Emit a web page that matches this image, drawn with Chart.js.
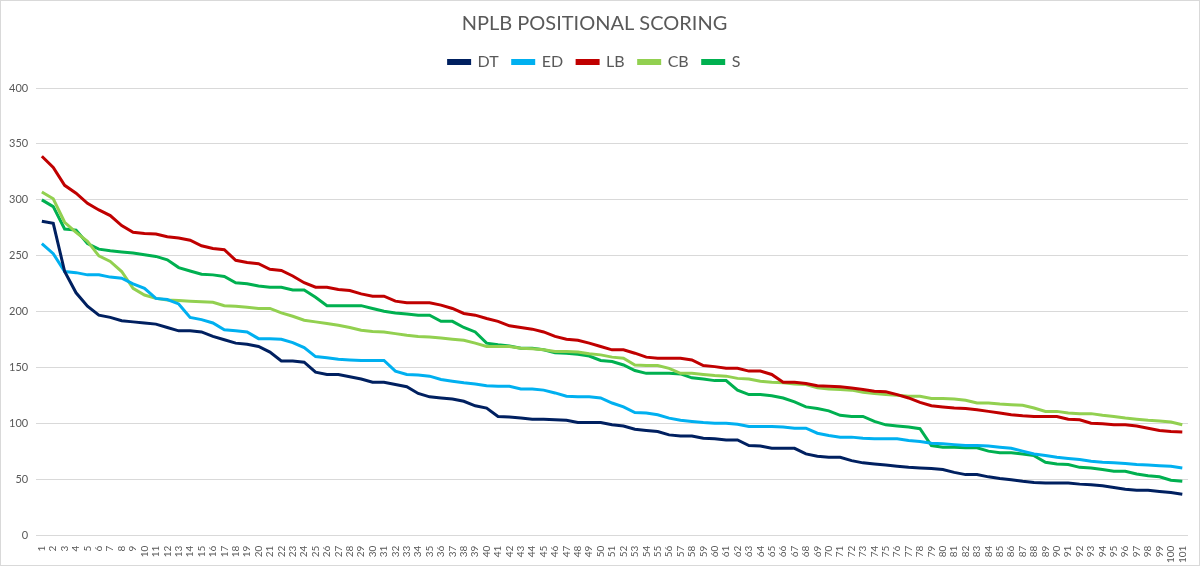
<!DOCTYPE html>
<html>
<head>
<meta charset="utf-8">
<title>NPLB Positional Scoring</title>
<script src="https://cdn.jsdelivr.net/npm/chart.js@4/dist/chart.umd.min.js"></script>
<style>
    html, body {
        margin: 0;
        padding: 0;
        background: #ffffff;
    }
    #wrap {
        width: 1200px;
        height: 566px;
        box-sizing: border-box;
        border: 1px solid #d9d9d9;
    }
</style>
</head>
<body>
<div id="wrap">
    <canvas id="scoringChart" width="1198" height="564"></canvas>
</div>
<script>

/*
 * Data
 */

const ranks =
    Array.from(
        { length: 101 },
        (_, i) => String(i + 1)
    );

const dtScores = [
    281, 279, 236, 217, 205, 197, 195, 192, 191, 190,
    189, 186, 183, 183, 182, 178, 175, 172, 171, 169,
    164, 156, 156, 155, 146, 144, 144, 142, 140, 137,
    137, 135, 133, 127, 124, 123, 122, 120, 116, 114,
    106.5, 106, 105, 104, 104, 103.5, 103, 101, 101, 101,
    99, 98, 95, 94, 93, 90, 89, 89, 87, 86.5,
    85.5, 85.5, 80.5, 80, 78, 78, 78, 73, 71, 70,
    70, 67, 65, 64, 63, 62, 61, 60.5, 60, 59,
    56.5, 54.5, 54.5, 52.5, 51, 50, 48.5, 47.5, 47, 47,
    47, 46, 45.5, 44.5, 43, 41.5, 40.5, 40.5, 39.5, 38.5,
    37
];

const edScores = [
    261, 252, 236, 235, 233, 233, 231, 230, 225, 221,
    212, 211, 207, 195, 193, 190, 184, 183, 182, 176,
    176, 175.5, 172.5, 168, 160, 159, 157.5, 157, 156.5, 156.5,
    156.5, 147, 144, 143.5, 142.5, 139.5, 138, 136.5, 135.5, 134,
    133.5, 133.5, 131, 131, 130, 127.5, 124.5, 124, 124, 123,
    118.5, 115, 110, 109.5, 108, 105, 103, 102, 101, 100.5,
    100.5, 99.5, 97.5, 97.5, 97.5, 97, 96, 96, 91.5, 89.5,
    88, 88, 87, 86.5, 86.5, 86.5, 85, 84, 82.5, 82,
    81.3, 80.5, 80.5, 80, 79, 78, 75.5, 73, 71.5, 70,
    69, 68, 66.5, 65.5, 65, 64.5, 63.5, 63, 62.5, 62,
    60.5
];

const lbScores = [
    339, 329, 313, 306, 297, 291, 286, 277, 271, 270,
    269.5, 267, 266, 264, 259, 256.5, 255.5, 246, 244, 243,
    238, 237, 232, 226, 222, 222, 220, 219, 216, 214,
    214, 209.5, 208, 208, 208, 206, 203, 198.5, 197, 194,
    191.5, 187.5, 186, 184.5, 182, 178, 175.5, 174.5, 172, 169,
    166, 166, 163, 159.5, 158.5, 158.5, 158.5, 157, 152, 151,
    149.5, 149.5, 147, 147, 144, 137, 137, 136, 134, 133.5,
    133, 132, 130.5, 129, 128.5, 126, 123, 119, 116, 115,
    114, 113.5, 112.5, 111, 109.5, 108, 107, 106.5, 106.5, 106.5,
    104, 103.5, 100.5, 100, 99, 99, 98, 96, 94, 93,
    92.5
];

const cbScores = [
    307, 301, 280, 271, 263, 250, 245, 236, 221, 215,
    212, 210.5, 210, 209.5, 209, 208.5, 205.5, 205, 204, 203,
    203, 199, 196, 192.5, 191, 189.5, 188, 186, 183.5, 182.5,
    182, 180.5, 179, 178, 177.5, 176.5, 175.5, 174.5, 172, 169,
    169, 169, 167.5, 167, 166, 164.5, 164.5, 164, 162.5, 161.5,
    159.5, 158.5, 152.5, 152, 152, 149.5, 145, 145, 144, 143,
    142.5, 140.5, 140, 138, 137, 136.5, 135.5, 135, 132, 131,
    130.5, 130, 128, 127, 126, 125.5, 124.5, 124.5, 122.5, 122.5,
    122, 121, 118.5, 118.5, 117.5, 117, 116.5, 114, 111, 111,
    109.5, 109, 109, 107.5, 106.5, 105, 104, 103, 102.5, 101.5,
    99
];

const sScores = [
    300, 294, 274, 273, 261, 256, 254.5, 253.5, 252.5, 251,
    249.5, 246.5, 239.5, 236.5, 233.5, 233, 231.5, 226, 225, 223,
    222, 222, 219.5, 219.5, 213, 205.5, 205.5, 205.5, 205.5, 203,
    200.5, 199, 198, 197, 197, 191.5, 191.5, 186, 182, 172,
    170.5, 169.5, 167.5, 167.5, 166, 163.5, 163, 162, 160.5, 156.5,
    155.5, 152.5, 147.5, 145, 145, 145, 144.5, 141, 140, 138.5,
    138.5, 130, 126, 126, 125, 123, 119.5, 115, 113.5, 111.5,
    107.5, 106.5, 106.5, 102, 99, 98, 97, 95.5, 80.5, 79,
    79, 78.5, 78.5, 75.5, 74, 74, 73, 71.5, 65.5, 64,
    63.5, 61, 60.5, 59, 57.5, 57.5, 55, 53.5, 52.5, 49.5,
    48.5
];

const seriesNames = [ "DT", "ED", "LB", "CB", "S" ];

const seriesColors = [ "#002060", "#00B0F0", "#C00000", "#92D050", "#00B050" ];

const yTicks = [ 0, 50, 100, 150, 200, 250, 300, 350, 400 ];


document.addEventListener(

    "DOMContentLoaded",

    () => {

        /*
         * Scoring Chart
         */

        const canvas =
            document.getElementById(
                "scoringChart"
            );

        const textColor = "#595959";

        const fontFamily = "Lato, 'Open Sans', sans-serif";

        const allScores = [ dtScores, edScores, lbScores, cbScores, sScores ];

        const datasets =
            seriesNames.map(
                (name, i) => ({
                    label: name,
                    data: allScores[i],
                    borderColor: seriesColors[i],
                    backgroundColor: seriesColors[i],
                    borderWidth: 3,
                    pointRadius: 0,
                    pointHoverRadius: 0,
                    tension: 0
                })
            );

        // a bit more room under the legend, like the original
        const legendGap = {
            id: "legendGap",
            beforeInit: chart => {
                const fit = chart.legend.fit;
                chart.legend.fit = function () {
                    fit.call(this);
                    this.height += 8;
                };
            }
        };

        new Chart(

            canvas,

            {

                type: "line",

                data: {
                    labels: ranks,
                    datasets
                },

                plugins: [ legendGap ],

                options: {

                    responsive: false,
                    animation: false,

                    layout: {
                        padding: {
                            left: 0,
                            right: 11,
                            top: 0,
                            bottom: 0
                        }
                    },

                    plugins: {

                        title: {
                            display: true,
                            text: "NPLB POSITIONAL SCORING",
                            color: textColor,
                            font: {
                                family: fontFamily,
                                size: 20,
                                weight: "normal"
                            },
                            padding: {
                                top: 11,
                                bottom: 4
                            }
                        },

                        legend: {
                            display: true,
                            position: "top",
                            labels: {
                                color: textColor,
                                boxWidth: 21,
                                boxHeight: 3,
                                padding: 14,
                                font: {
                                    family: fontFamily,
                                    size: 16
                                }
                            }
                        },

                        tooltip: {
                            enabled: false
                        }

                    },

                    scales: {

                        x: {
                            type: "category",
                            offset: true,
                            grid: {
                                display: false
                            },
                            border: {
                                display: false
                            },
                            ticks: {
                                autoSkip: false,
                                minRotation: 90,
                                maxRotation: 90,
                                padding: 2,
                                color: textColor,
                                font: {
                                    family: fontFamily,
                                    size: 10
                                }
                            }
                        },

                        y: {
                            min: yTicks[0],
                            max: yTicks[yTicks.length - 1],
                            afterBuildTicks: axis => {
                                axis.ticks = yTicks.map(v => ({ value: v }));
                            },
                            grid: {
                                color: "#d9d9d9",
                                lineWidth: 1,
                                drawTicks: false
                            },
                            border: {
                                display: false
                            },
                            ticks: {
                                padding: 8,
                                color: textColor,
                                font: {
                                    family: fontFamily,
                                    size: 11
                                }
                            }
                        }

                    }

                }

            }

        );

    }

);

</script>
</body>
</html>
